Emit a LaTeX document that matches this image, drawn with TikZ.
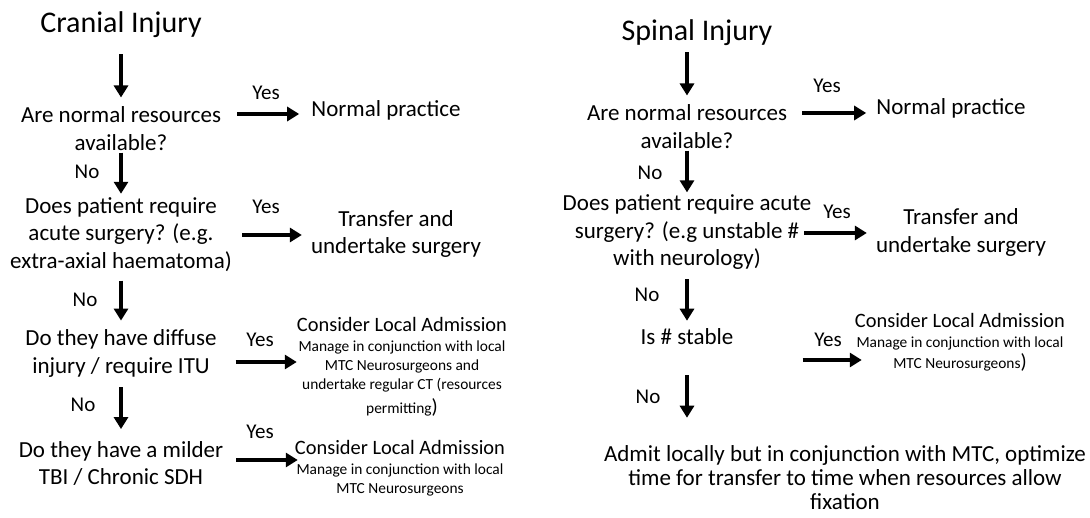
\documentclass[tikz,border=0pt]{standalone}
\usepackage{fontspec}
\setmainfont{Carlito}
\usetikzlibrary{arrows.meta}
\newcommand\fsz[2]{\fontsize{#1}{#2}\selectfont}
\begin{document}
\begin{tikzpicture}[x=1pt,y=-1pt,
  body/.style={font=\fsz{23}{27.5}, align=center, inner sep=0pt},
  ttl/.style={font=\fsz{30}{36}, inner sep=0pt},
  lab/.style={font=\fsz{21}{25}, inner sep=0pt},
  adm/.style={font=\fsz{15.4}{19}, align=center, inner sep=0pt, anchor=north},
  arr/.style={line width=3.5pt, -{Triangle[length=12pt,width=14pt]}}]
\fill[white] (0,0) rectangle (1090,518);
\useasboundingbox (0,0) rectangle (1090,518);

% ---------- Cranial ----------
\node[ttl] (t1) at (121,25) {Cranial Injury};
\node[body] (q1) at (121,128.5) {Are normal resources\\available?};
\node[body] (r1) at (386,110) {Normal practice};
\node[body] (q2) at (121,234.5) {Does patient require\\acute surgery? (e.g.\\extra-axial haematoma)};
\node[body] (r2) at (396,234) {Transfer and\\undertake surgery};
\node[body] (q3) at (121,353.5) {Do they have diffuse\\injury / require ITU};
\node[adm] (r3) at (402,317) {{\fsz{20.4}{24}Consider Local Admission}\\[1.5pt]Manage in conjunction with local\\MTC Neurosurgeons and\\undertake regular CT (resources\\[5pt]permitting{\fsz{20.4}{24})}};
\node[body] (q4) at (121,463.5) {Do they have a milder\\TBI / Chronic SDH};
\node[adm] (r4) at (400,440) {{\fsz{20.4}{24}Consider Local Admission}\\[1.5pt]Manage in conjunction with local\\MTC Neurosurgeons};

\node[lab] (ly1) at (266,93) {Yes};
\node[lab] (ly2) at (266,207) {Yes};
\node[lab] (ly3) at (260,340) {Yes};
\node[lab] (ly4) at (260,432) {Yes};
\node[lab] (ln1) at (87,172) {No};
\node[lab] (ln2) at (85,300) {No};
\node[lab] (ln3) at (83,405) {No};

\coordinate (h1) at (0,114);
\coordinate (h2) at (0,235);
\coordinate (h3) at (0,362);
\coordinate (h4) at (0,460);

\draw[arr, shorten <=16pt, shorten >=9pt] (t1) -- (q1);
\draw[arr, shorten <=2pt, shorten >=3.5pt] (q1) -- (q2);
\draw[arr, shorten <=9pt, shorten >=9pt] (q2) -- (q3);
\draw[arr, shorten <=10pt, shorten >=12pt] (q3) -- (q4);
\draw[arr, shorten <=16pt, shorten >=12pt] (q1.east |- h1) -- (r1.west |- h1);
\draw[arr, shorten <=10pt, shorten >=9pt] (q2.east |- h2) -- (r2.west |- h2);
\draw[arr, shorten <=19pt, shorten >=0pt] (q3.east |- h3) -- (r3.west |- h3);
\draw[arr, shorten <=13pt, shorten >=-3pt] (q4.east |- h4) -- (r4.west |- h4);

% ---------- Spinal ----------
\node[ttl] (t2) at (697,33) {Spinal Injury};
\node[body] (p1) at (687,126.5) {Are normal resources\\available?};
\node[body] (s1) at (951,108) {Normal practice};
\node[body] (p2) at (687,232.5) {Does patient require acute\\surgery? (e.g unstable \#\\with neurology)};
\node[body] (s2) at (961,232.5) {Transfer and\\undertake surgery};
\node[body] (p3) at (687,337) {Is \# stable};
\node[adm] (s3) at (960,313) {{\fsz{20.4}{24}Consider Local Admission}\\[1.5pt]Manage in conjunction with local\\[2pt]MTC Neurosurgeons{\fsz{20.4}{24})}};
\node[body, font=\fsz{23}{24}] (p4) at (845,478) {Admit locally but in conjunction with MTC, optimize\\time for transfer to time when resources allow\\fixation};

\node[lab] (ry1) at (827,86) {Yes};
\node[lab] (ry2) at (837,212) {Yes};
\node[lab] (ry3) at (828,340) {Yes};
\node[lab] (rn1) at (650,173) {No};
\node[lab] (rn2) at (647,295) {No};
\node[lab] (rn3) at (648,397) {No};

\coordinate (g1) at (0,113);
\coordinate (g2) at (0,233);
\coordinate (g3) at (0,360);

\draw[arr, shorten <=6pt, shorten >=9pt] (t2.south -| p1.north) -- (p1.north);
\draw[arr, shorten <=2pt, shorten >=2.5pt] (p1) -- (p2);
\draw[arr, shorten <=9pt, shorten >=8pt] (p2) -- (p3);
\draw[arr, shorten <=30pt, shorten >=28pt] (p3.south) -- (p4.north -| p3.south);
\draw[arr, shorten <=15pt, shorten >=10pt] (p1.east |- g1) -- (s1.west |- g1);
\draw[arr, shorten <=-7pt, shorten >=9pt] (p2.east |- g2) -- (s2.west |- g2);
\draw[arr, shorten <=69pt, shorten >=-7pt] (p3.east |- g3) -- (s3.west |- g3);
\end{tikzpicture}
\end{document}
